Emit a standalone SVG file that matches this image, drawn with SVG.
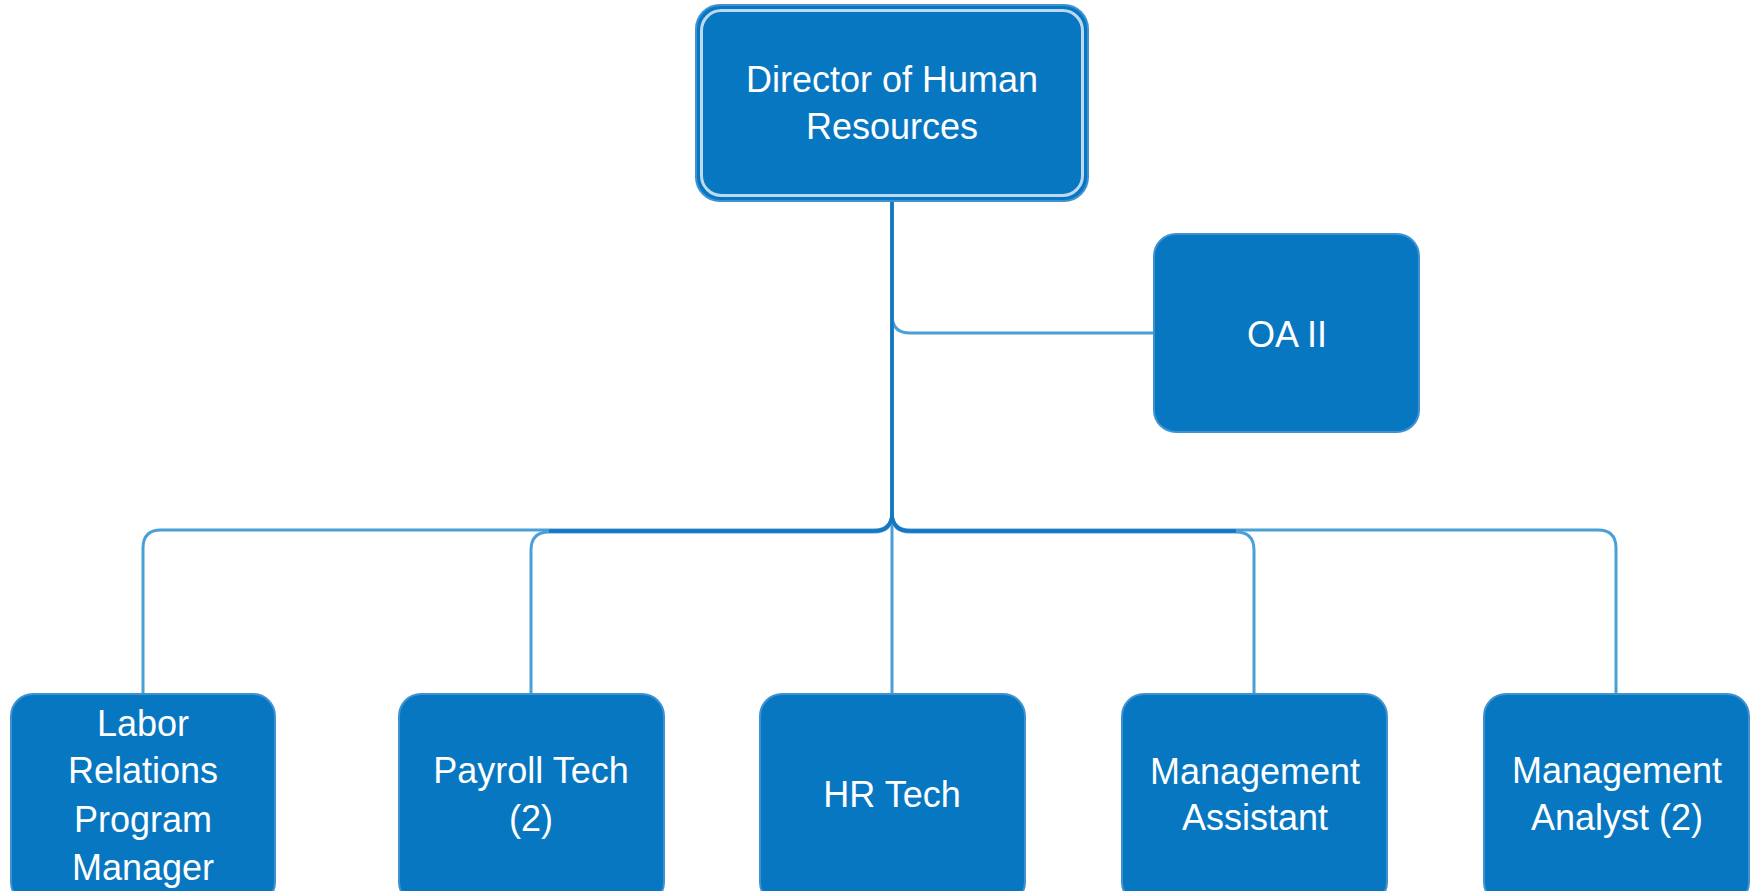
<svg xmlns="http://www.w3.org/2000/svg" width="1752" height="891" viewBox="0 0 1752 891">
<style>
.node{fill:#0877c1;stroke:#3e92d2;stroke-width:2}
.lbl{font-family:"Liberation Sans",Arial,sans-serif;font-size:36px;fill:#ffffff;text-anchor:middle}
.cl{fill:none;stroke:#4a9fd8;stroke-width:3}
.cd{fill:none;stroke:#1677c0;stroke-width:3.5}
</style>
<rect width="1752" height="891" fill="#ffffff"/>
<g id="connectors">
<path class="cl" d="M892 201 V315 Q892 333 910 333 H1154"/>
<path class="cl" d="M892 201 V694"/>
<path class="cl" d="M892 201 V512 Q892 530 874 530 H161 Q143 530 143 548 V694"/>
<path class="cl" d="M892 201 V512 Q892 530 910 530 H1598 Q1616 530 1616 548 V694"/>
<path class="cl" d="M892 201 V514 Q892 532 874 532 H549 Q531 532 531 550 V694"/>
<path class="cl" d="M892 201 V514 Q892 532 910 532 H1236 Q1254 532 1254 550 V694"/>
<path class="cd" d="M892 201 V513 Q892 531 874 531 H549"/>
<path class="cd" d="M892 513 Q892 531 910 531 H1236"/>
</g>
<g id="director">
<rect class="node" x="696" y="5" width="392" height="196" rx="24"/>
<rect x="701.5" y="10.5" width="381" height="185" rx="20" fill="none" stroke="#bcd9f1" stroke-width="3"/>
<text class="lbl" x="892" y="92">Director of Human</text>
<text class="lbl" x="892" y="139">Resources</text>
</g>
<g id="oa2">
<rect class="node" x="1154" y="234" width="265" height="198" rx="22"/>
<text class="lbl" x="1287" y="347">OA II</text>
</g>
<g id="labor">
<rect class="node" x="11" y="694" width="264" height="210" rx="22"/>
<text class="lbl" x="143" y="736">Labor</text>
<text class="lbl" x="143" y="783">Relations</text>
<text class="lbl" x="143" y="832">Program</text>
<text class="lbl" x="143" y="880">Manager</text>
</g>
<g id="payroll">
<rect class="node" x="399" y="694" width="265" height="210" rx="22"/>
<text class="lbl" x="531" y="783">Payroll Tech</text>
<text class="lbl" x="531" y="831">(2)</text>
</g>
<g id="hrtech">
<rect class="node" x="760" y="694" width="265" height="210" rx="22"/>
<text class="lbl" x="892" y="807">HR Tech</text>
</g>
<g id="mgmtassistant">
<rect class="node" x="1122" y="694" width="265" height="210" rx="22"/>
<text class="lbl" x="1255" y="784">Management</text>
<text class="lbl" x="1255" y="830">Assistant</text>
</g>
<g id="mgmtanalyst">
<rect class="node" x="1484" y="694" width="265" height="210" rx="22"/>
<text class="lbl" x="1617" y="783">Management</text>
<text class="lbl" x="1617" y="830">Analyst (2)</text>
</g>
</svg>
